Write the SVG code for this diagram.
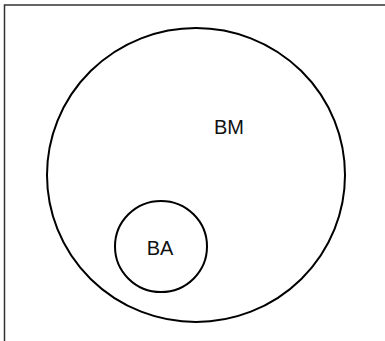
<svg xmlns="http://www.w3.org/2000/svg" width="385" height="341" viewBox="0 0 385 341">
<style>
.shape{fill:none;stroke:#000;stroke-width:2}
.lbl{font-family:"Liberation Sans",Arial,sans-serif;font-size:20px;fill:#111;text-anchor:middle}
.frame{fill:none;stroke:#333;stroke-width:1.5}
</style>
<rect width="385" height="341" fill="#fff"/>
<path class="frame" d="M4.5,341 V5 H385"/>
<g id="BM">
<ellipse class="shape" cx="196" cy="175" rx="149" ry="147"/>
<text class="lbl" x="229" y="134">BM</text>
</g>
<g id="BA">
<ellipse class="shape" cx="161" cy="246.5" rx="46" ry="45.5"/>
<text class="lbl" x="160" y="255">BA</text>
</g>
<g id="connectors"/>
</svg>
